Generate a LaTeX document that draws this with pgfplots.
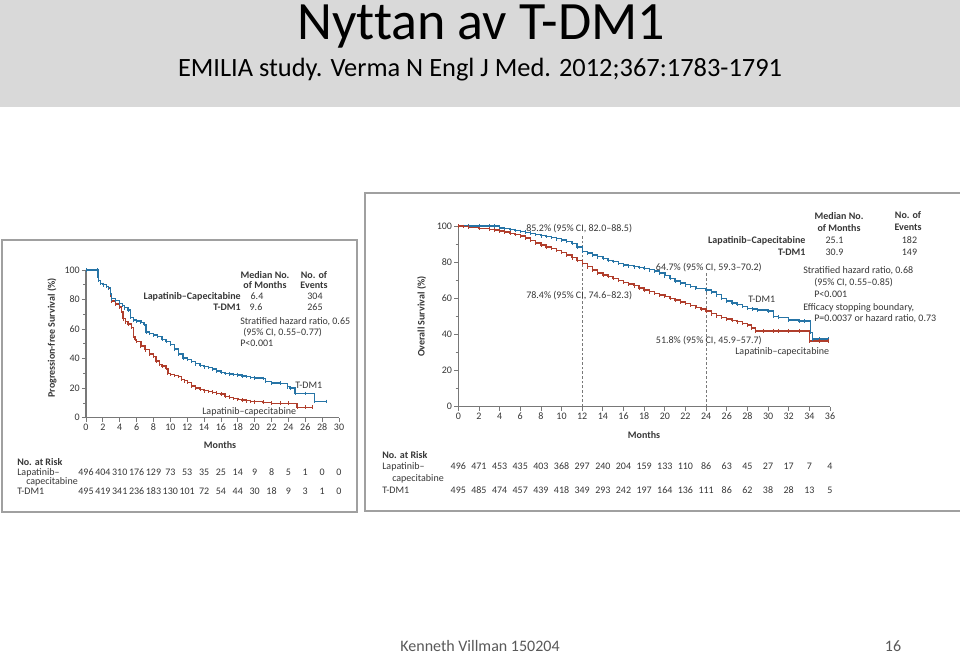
\documentclass[border=0pt]{standalone}
\usepackage{pgfplots}
\pgfplotsset{compat=1.18}
\usepackage{fontspec}
\setmainfont{Carlito}[Numbers=Lining]
\definecolor{hdr}{RGB}{217,217,217}
\definecolor{kmblue}{RGB}{38,116,166}
\definecolor{kmred}{RGB}{176,62,44}
\definecolor{axgray}{RGB}{120,120,120}
\definecolor{txt}{RGB}{55,55,55}
\definecolor{framec}{RGB}{160,160,160}
\newcommand{\cf}{\fontsize{7.5}{8.5}\selectfont}
\pgfplotsset{
  kmaxis/.style={
    scale only axis, anchor=south west,
    axis x line=bottom, axis y line=left,
    axis line style={-, draw=axgray, line width=0.8pt},
    tick style={draw=axgray, line width=0.6pt},
    tick align=outside, major tick length=3pt, minor tick length=2pt,
    ymin=0, ymax=100, ytick={0,20,...,100}, minor y tick num=1,
    clip=false,
    /pgf/number format/assume math mode=true,
    tick label style={font=\cf, text=txt, inner sep=1.5pt},
  },
  km/.style={const plot, line width=1.05pt, mark=|, mark size=1.4pt, mark options={solid, line width=0.5pt}},
}
\begin{document}
\begin{tikzpicture}[x=0.75pt,y=0.75pt, t/.style={inner sep=0pt, anchor=mid, text=txt, font=\cf}, tb/.style={inner sep=0pt, anchor=mid, text=txt, font=\cf\bfseries}]
\useasboundingbox (0,0) rectangle (960,653);
\fill[white] (0,0) rectangle (960,653);
\fill[hdr] (0,653-107) rectangle (960,653);
\node[anchor=base, inner sep=0pt, font=\fontsize{40.5}{44}\selectfont\addfontfeatures{Ligatures=NoCommon}] at (481,653-39.5) {Nyttan av T-DM1};
\node[anchor=base, inner sep=0pt, font=\fontsize{19.8}{24}\selectfont] at (480,653-77) {EMILIA study. Verma N Engl J Med. 2012;367:1783-1791};
\node[anchor=base, inner sep=0pt, text=black!65, font=\fontsize{12}{14}\selectfont] at (480,653-651) {Kenneth Villman 150204};
\node[anchor=base, inner sep=0pt, text=black!65, font=\fontsize{12}{14}\selectfont] at (893,653-651) {16};

% frames
\draw[framec, line width=1.1pt] (2,653-240) rectangle (357,653-512);
\draw[framec, line width=1.1pt] (962,653-193) -- (365,653-193) -- (365,653-511) -- (962,653-511);

% ---------------- PFS ----------------
\begin{axis}[kmaxis, at={(64.5pt,176.475pt)}, width=189.75pt, height=110.8pt,
  xmin=0, xmax=30, xtick={0,2,...,30}]
\addplot[km, kmred] coordinates {
(0,100) (1.3,100) (1.4,96) (1.5,93) (1.7,91) (2.0,90) (2.4,89) (2.7,87.5) (2.9,83) (3.0,79) (3.5,77) (4.0,75) (4.2,72) (4.4,67) (4.7,65) (5.0,63.5) (5.4,61) (5.6,55) (5.8,53) (6.0,51.5) (6.5,48.5) (7.0,46) (7.5,43) (8.0,41.5) (8.3,38.5) (8.7,36) (9.0,35) (9.5,33.5) (9.7,30) (10,29.3) (10.5,28.5) (11,27.8) (11.3,26) (11.7,25) (12,24) (12.5,21.5) (13,20) (13.5,19) (14,18.3) (14.5,17.8) (15,17.2) (15.5,16.5) (16,16) (16.5,14.5) (17,13.8) (17.5,13) (18,12.4) (18.5,12) (19,11.5) (19.5,11) (20,10.8) (21,10.4) (22,9.7) (23,9.7) (24,9.7) (25,7) (26,7) (26.8,7)};
\addplot[km, kmblue] coordinates {
(0,100) (1.3,100) (1.4,96) (1.5,93) (1.7,91) (2.0,90) (2.4,89) (2.7,88) (2.9,84) (3.0,80.5) (3.5,79.5) (4.0,77.5) (4.3,76) (4.6,74.5) (5.0,73) (5.3,68) (5.6,66) (6.0,65.5) (6.5,64.5) (6.9,63) (7.1,58) (7.5,57) (8.0,56) (8.5,55) (9.0,53) (9.5,51.5) (10,49.5) (10.5,46.5) (11,43) (11.5,40.5) (12,39.5) (12.5,38) (13,36.5) (13.5,35.5) (14,34.5) (14.5,34) (15,33) (15.5,31.5) (16,30.7) (16.5,30) (17,29.6) (17.5,29.2) (18,29) (18.5,28.3) (19,27.8) (19.5,27.2) (20,27) (21,26.5) (21.3,24.5) (22,23.5) (23,23.3) (23.9,21) (24.2,20) (24.8,16.3) (26,16.3) (27.1,11) (28.5,11)};
\end{axis}
\node[t, rotate=90, font=\cf\bfseries, anchor=center] at (52,653-338) {Progression-free Survival (\%)};
\node[tb] at (265,653-275) {Median No.};
\node[tb] at (265,653-285.7) {of Months};
\node[tb] at (314,653-275) {No. of};
\node[tb] at (314,653-285.7) {Events};
\node[tb, anchor=mid east] at (241,653-296) {Lapatinib--Capecitabine};
\node[tb, anchor=mid east] at (241,653-307) {T-DM1};
\node[t] at (257,653-296) {6.4};
\node[t] at (315,653-296) {304};
\node[t] at (256,653-307) {9.6};
\node[t] at (315,653-307) {265};
\node[t, anchor=mid west] at (240,653-321.7) {Stratified hazard ratio, 0.65};
\node[t, anchor=mid west] at (243,653-332.7) {(95\% CI, 0.55--0.77)};
\node[t, anchor=mid west] at (240,653-343) {P<0.001};
\node[t, anchor=mid west] at (295,653-385) {T-DM1};
\node[t, anchor=mid west] at (202,653-411) {Lapatinib--capecitabine};
\node[tb] at (220,653-445) {Months};
\node[tb, anchor=mid west] at (17,653-462) {No. at Risk};
\node[t, anchor=mid west] at (17,653-472.7) {Lapatinib--};
\node[t, anchor=mid west] at (26,653-481.5) {capecitabine};
\node[t, anchor=mid west] at (17,653-491) {T-DM1};
\foreach \v [count=\i from 0] in {496,404,310,176,129,73,53,35,25,14,9,8,5,1,0,0}
  \node[t] at ({86+16.867*\i},653-472.7) {\v};
\foreach \v [count=\i from 0] in {495,419,341,236,183,130,101,72,54,44,30,18,9,3,1,0}
  \node[t] at ({86+16.867*\i},653-491) {\v};

% ---------------- OS ----------------
\begin{axis}[kmaxis, at={(343.725pt,184.725pt)}, width=278.8pt, height=135.5pt,
  xmin=0, xmax=36, xtick={0,2,...,36}]
\draw[axgray, dash pattern=on 2pt off 1.5pt, line width=0.8pt] (axis cs:12,0) -- (axis cs:12,95);
\draw[axgray, dash pattern=on 2pt off 1.5pt, line width=0.8pt] (axis cs:24,0) -- (axis cs:24,74.5);
\addplot[km, kmblue] coordinates {
(0,100) (1,100) (2,100) (3,100) (3.5,100) (4,99) (4.5,98.5) (5,98) (5.5,97.5) (6,97) (6.5,96.5) (7,96) (7.5,95.3) (8,94.6) (8.5,94.2) (9,93.7) (9.5,93) (10,92.3) (10.5,91.4) (11,90.4) (11.5,88.5) (12,86) (12.5,85) (13,84) (13.5,83) (14,82) (14.5,81) (15,80.3) (15.5,79.3) (16,78.4) (16.5,78) (17,77.5) (17.5,77) (18,76.6) (18.5,75.8) (19,75) (19.5,74) (20,72.5) (20.5,71) (21,69.5) (21.5,68.5) (22,67.5) (22.5,66.5) (23,65.5) (24,64.7) (24.5,63.5) (25,62) (25.5,60) (26,58.5) (26.5,57.5) (27,56.5) (27.5,55.5) (28,54.5) (28.5,54) (29,53.5) (30,53) (30.5,50) (31,49.5) (32,48) (33,47.5) (33.5,47.5) (34.1,41) (34.3,37.5) (35,37.5) (35.8,37.5)};
\addplot[km, kmred] coordinates {
(0,100) (0.5,99.7) (1,99.3) (2,98.7) (3,98.2) (3.5,97.7) (4,97.2) (4.5,96.6) (5,96) (5.5,95.3) (6,94.5) (6.5,93.3) (7,92) (7.5,90.7) (8,89.5) (8.5,88.5) (9,87.6) (9.5,86.5) (10,85.4) (10.5,84) (11,82.5) (11.5,81) (12,79.3) (12.5,77.5) (13,75.6) (13.5,74) (14,72.9) (14.5,72) (15,71) (15.5,69.8) (16,68.8) (16.5,68) (17,67) (17.5,65.8) (18,64.6) (18.5,63.6) (19,62.7) (19.5,61.8) (20,61) (20.5,60) (21,59) (21.5,58) (22,57.2) (22.5,56) (23,55) (23.5,54) (24,53) (24.5,51.5) (25,50.4) (25.5,49.5) (26,48.5) (26.5,47.7) (27,47) (27.5,46) (28,45.2) (28.4,43.5) (28.8,42) (29.5,42) (30.5,42) (31,42) (32,42) (33,42) (34,36.4) (35,36.4) (35.8,36.4)};
\end{axis}
\node[t, rotate=90, font=\cf\bfseries, anchor=center] at (421.7,653-316.7) {Overall Survival (\%)};
\node[t, anchor=mid west] at (526,653-228.3) {85.2\% (95\% CI, 82.0--88.5)};
\node[t, anchor=mid west] at (526,653-295) {78.4\% (95\% CI, 74.6--82.3)};
\node[t, anchor=mid east] at (762,653-267.7) {64.7\% (95\% CI, 59.3--70.2)};
\node[t, anchor=mid east] at (762,653-340) {51.8\% (95\% CI, 45.9--57.7)};
\node[t, anchor=mid west] at (748,653-299) {T-DM1};
\node[t, anchor=mid west] at (735,653-351.7) {Lapatinib--capecitabine};
\node[tb] at (839,653-216.7) {Median No.};
\node[tb] at (839,653-228.3) {of Months};
\node[tb] at (908,653-215.7) {No. of};
\node[tb] at (908,653-227.7) {Events};
\node[tb, anchor=mid east] at (805.7,653-240) {Lapatinib--Capecitabine};
\node[tb, anchor=mid east] at (805.7,653-252) {T-DM1};
\node[t] at (834.5,653-240) {25.1};
\node[t] at (909.5,653-240) {182};
\node[t] at (834.5,653-252) {30.9};
\node[t] at (909.5,653-252) {149};
\node[t, anchor=mid west] at (803,653-270.7) {Stratified hazard ratio, 0.68};
\node[t, anchor=mid west] at (814,653-282) {(95\% CI, 0.55--0.85)};
\node[t, anchor=mid west] at (814,653-294) {P<0.001};
\node[t, anchor=mid west] at (803,653-307) {Efficacy stopping boundary,};
\node[t, anchor=mid west] at (814,653-318.5) {P=0.0037 or hazard ratio, 0.73};
\node[tb] at (644,653-435.5) {Months};
\node[tb, anchor=mid west] at (382,653-455) {No. at Risk};
\node[t, anchor=mid west] at (382,653-466.7) {Lapatinib--};
\node[t, anchor=mid west] at (392,653-478) {capecitabine};
\node[t, anchor=mid west] at (382,653-490.5) {T-DM1};
\foreach \v [count=\i from 0] in {496,471,453,435,403,368,297,240,204,159,133,110,86,63,45,27,17,7,4}
  \node[t] at ({458.3+20.65*\i},653-466.7) {\v};
\foreach \v [count=\i from 0] in {495,485,474,457,439,418,349,293,242,197,164,136,111,86,62,38,28,13,5}
  \node[t] at ({458.3+20.65*\i},653-490.5) {\v};
\end{tikzpicture}
\end{document}
